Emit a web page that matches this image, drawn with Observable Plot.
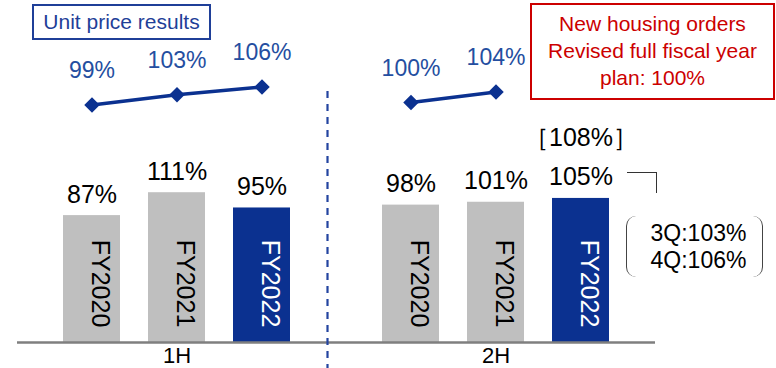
<!DOCTYPE html>
<html>
<head>
<meta charset="utf-8">
<script src="https://cdn.jsdelivr.net/npm/d3@7"></script>
<script src="https://cdn.jsdelivr.net/npm/@observablehq/plot@0.6"></script>
<style>
  html, body { margin: 0; padding: 0; background: #fff; overflow: hidden; }
  #chart { position: relative; width: 776px; height: 368px; font-family: "Liberation Sans", Arial, sans-serif; }
  #chart svg { position: absolute; left: 0; top: 0; }
  .note { position: absolute; box-sizing: border-box; display: flex; flex-direction: column;
          justify-content: center; align-items: center; white-space: nowrap; }
  #priceTitle { left: 32px; top: 4px; width: 179px; height: 36px; border: 2px solid #1f3f98;
                color: #1f3f98; font-size: 21px; }
  #planNote { left: 530px; top: 3px; width: 245px; height: 97px; border: 2px solid #cc0000;
              color: #cc0000; font-size: 21px; line-height: 26.7px; }
  #connector { left: 627px; top: 172px; width: 30px; height: 21px;
               border-top: 1.3px solid #333; border-right: 1.3px solid #333; box-sizing: border-box; position: absolute; }
  #quarters { left: 626px; top: 216px; width: 137px; height: 61px; padding-left: 8px;
              border-left: 1.5px solid #444; border-right: 1.5px solid #444; border-radius: 10px;
              color: #000; font-size: 23px; line-height: 27px; }
</style>
</head>
<body>
<div id="chart"></div>
<script>
// Half-year periods and fiscal years
const halves = ["1H", "2H"];
const years = ["FY2020", "FY2021", "FY2022"];

// New housing orders, year-on-year (%)
const orders1H = [87, 111, 95];
const orders2H = [98, 101, 105];

// Unit price results, year-on-year (%)
const price1H = [99, 103, 106];
const price2H = [100, 104];

// 2H FY2022 plan and quarterly breakdown
const plan2H = 108;
const quarterNames = ["3Q", "4Q"];
const quarterValues = [103, 106];

// Revised full fiscal year plan (%)
const revisedPlan = 100;

const NAVY = "#0b3190";
const GRAY = "#bfbfbf";
const LABEL_BLUE = "#244ea0";
const Y_FLOOR = -46; // bottom of the order scale (truncated axis)

const orders = [
  ...years.map((year, i) => ({half: "1H", year, value: orders1H[i]})),
  ...years.map((year, i) => ({half: "2H", year, value: orders2H[i]}))
];
const prices = [
  ...price1H.map((value, i) => ({half: "1H", year: years[i], value})),
  ...price2H.map((value, i) => ({half: "2H", year: years[i], value}))
];
const planNotes = [{half: "2H", year: "FY2022", value: orders2H[2], plan: plan2H}];
const divider = [{half: "1H", year: "FY2022"}];

// Both layers share the same horizontal layout
const shared = {
  width: 776,
  height: 368,
  marginLeft: 16,
  marginRight: 121,
  fx: {domain: halves, padding: 0, axis: null},
  x: {type: "band", domain: years, paddingInner: 1 / 3, paddingOuter: 0.535, axis: null},
  style: {fontFamily: '"Liberation Sans", Arial, sans-serif', color: "#000", background: "transparent"}
};

// Bars: new housing orders
const barsPlot = Plot.plot({
  ...shared,
  marginTop: 155,
  marginBottom: 26,
  y: {domain: [Y_FLOOR, 150], axis: null},
  color: {domain: years, range: [GRAY, GRAY, NAVY]},
  marks: [
    Plot.barY(orders, {fx: "half", x: "year", y1: Y_FLOOR, y2: "value", fill: "year"}),
    Plot.ruleY([Y_FLOOR], {stroke: "#7f7f7f", strokeWidth: 2.4}),
    Plot.ruleX(divider, {fx: "half", x: "year", dx: 65.5, insetTop: -64, insetBottom: -30,
                         stroke: "#2344a0", strokeWidth: 2.2, strokeDasharray: "7,6"}),
    Plot.text(orders, {fx: "half", x: "year", y: "value", text: d => `${d.value}%`,
                       dy: -21, fontSize: 25, fill: "#000"}),
    Plot.text(orders, {filter: d => d.year !== "FY2022", fx: "half", x: "year", text: "year",
                       rotate: 90, frameAnchor: "bottom", dy: -59, fontSize: 25, fill: "#000"}),
    Plot.text(orders, {filter: d => d.year === "FY2022", fx: "half", x: "year", text: "year",
                       rotate: 90, frameAnchor: "bottom", dy: -59, fontSize: 25, fill: "#fff"}),
    Plot.text(planNotes, {fx: "half", x: "year", y: "value", text: d => `［${d.plan}%］`,
                          dy: -60, fontSize: 25, fill: "#000"}),
    Plot.axisFx({anchor: "bottom", tickSize: 0, tickPadding: 5, fontSize: 22, label: null})
  ]
});

// Line: unit price results
const linePlot = Plot.plot({
  ...shared,
  marginTop: 76,
  marginBottom: 240,
  y: {domain: [90, 110], axis: null},
  marks: [
    Plot.line(prices, {fx: "half", x: "year", y: "value", stroke: NAVY, strokeWidth: 3.5}),
    Plot.dot(prices, {fx: "half", x: "year", y: "value", symbol: "diamond2", r: 7, fill: NAVY}),
    Plot.text(prices, {fx: "half", x: "year", y: "value", text: d => `${d.value}%`,
                       dy: -34, fontSize: 23, fill: LABEL_BLUE})
  ]
});

const chart = document.getElementById("chart");
chart.append(barsPlot, linePlot);

const priceTitle = document.createElement("div");
priceTitle.id = "priceTitle";
priceTitle.className = "note";
priceTitle.textContent = "Unit price results";
chart.append(priceTitle);

const planNote = document.createElement("div");
planNote.id = "planNote";
planNote.className = "note";
["New housing orders", "Revised full fiscal year", `plan: ${revisedPlan}%`].forEach(t => {
  const line = document.createElement("div");
  line.textContent = t;
  planNote.append(line);
});
chart.append(planNote);

const connector = document.createElement("div");
connector.id = "connector";
chart.append(connector);

const quarters = document.createElement("div");
quarters.id = "quarters";
quarters.className = "note";
quarterNames.forEach((q, i) => {
  const line = document.createElement("div");
  line.textContent = `${q}:${quarterValues[i]}%`;
  quarters.append(line);
});
chart.append(quarters);
</script>
</body>
</html>
